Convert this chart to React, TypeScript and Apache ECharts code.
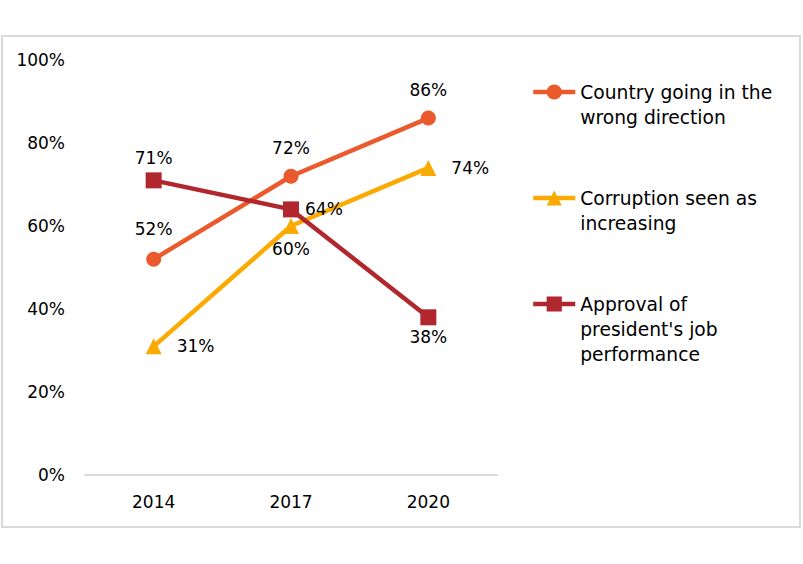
import React, { useEffect, useRef } from "react";
import * as echarts from "echarts";

const categories = ["2014", "2017", "2020"];
const countryWrong = [52, 72, 86];
const corruption = [31, 60, 74];
const approval = [71, 64, 38];
const yTicks = [0, 20, 40, 60, 80, 100];
const seriesNames = [
  "Country going in the\nwrong direction",
  "Corruption seen as\nincreasing",
  "Approval of\npresident's job\nperformance",
];

const FONT = "'DejaVu Sans', 'Liberation Sans', Arial, sans-serif";
const C1 = "#EA5A2C";
const C2 = "#FAAA00";
const C3 = "#B0272D";

export default function App() {
  const ref = useRef<HTMLDivElement>(null);
  useEffect(() => {
    if (!ref.current) return;
    const chart = echarts.init(ref.current, null, { renderer: "svg" });
    const lbl = (pos: string, dist: number) => ({
      show: true,
      position: pos,
      distance: dist,
      formatter: "{c}%",
      color: "#000",
      fontSize: 17,
      fontFamily: FONT,
    });
    const mk = (vals: number[], pos: string[], dist: number[]) =>
      vals.map((v, i) => ({ value: v, label: lbl(pos[i], dist[i]) }));
    const legendBase = (name: string, iconY: number) => {
      const lines = name.split("\n").length;
      const prefix = "\n".repeat(lines - 1);
      const total = (lines * 2 - 1) * 25;
      return {
        orient: "vertical",
        left: 531,
        top: iconY - total / 2,
        padding: 0,
        itemWidth: 42,
        itemHeight: 19,
        itemGap: 0,
        data: [name],
        selectedMode: false,
        lineStyle: { width: 4.5 },
        formatter: (n: string) => prefix + n,
        textStyle: {
          fontSize: 18.7,
          fontFamily: FONT,
          color: "#000",
          lineHeight: 25,
        },
      };
    };
    chart.setOption({
      animation: false,
      grid: { left: 85, right: 306, top: 60, bottom: 89 },
      graphic: [
        {
          type: "rect",
          shape: { x: 2, y: 36, width: 798, height: 491 },
          style: { fill: "none", stroke: "#d9d9d9", lineWidth: 2 },
          z: -1,
        },
      ],
      legend: [
        legendBase(seriesNames[0], 92),
        legendBase(seriesNames[1], 198),
        legendBase(seriesNames[2], 304),
      ],
      xAxis: {
        type: "category",
        data: categories,
        boundaryGap: true,
        axisLine: { lineStyle: { color: "#d9d9d9", width: 2 } },
        axisTick: { show: false },
        axisLabel: { color: "#000", fontSize: 17, fontFamily: FONT, margin: 18 },
      },
      yAxis: {
        type: "value",
        min: yTicks[0],
        max: yTicks[yTicks.length - 1],
        interval: 20,
        splitLine: { show: false },
        axisLine: { show: false },
        axisTick: { show: false },
        axisLabel: {
          color: "#000",
          fontSize: 17,
          fontFamily: FONT,
          margin: 20,
          formatter: "{value}%",
        },
      },
      series: [
        {
          name: seriesNames[0],
          type: "line",
          data: mk(countryWrong, ["top", "top", "top"], [14, 12, 12]),
          symbol: "circle",
          symbolSize: 15,
          lineStyle: { color: C1, width: 4.5 },
          itemStyle: { color: C1 },
          z: 3,
        },
        {
          name: seriesNames[1],
          type: "line",
          data: mk(corruption, ["right", "bottom", "right"], [15, 6, 15]),
          symbol: "triangle",
          symbolSize: 16,
          lineStyle: { color: C2, width: 4.5 },
          itemStyle: { color: C2 },
          z: 2,
        },
        {
          name: seriesNames[2],
          type: "line",
          data: mk(approval, ["top", "right", "bottom"], [6, 6, 3]),
          symbol: "rect",
          symbolSize: 16,
          lineStyle: { color: C3, width: 4.5 },
          itemStyle: { color: C3 },
          z: 4,
        },
      ],
    });
    return () => chart.dispose();
  }, []);
  return (
    <div
      ref={ref}
      style={{ position: "absolute", left: 0, top: 0, width: 803, height: 564, background: "#fff" }}
    />
  );
}
